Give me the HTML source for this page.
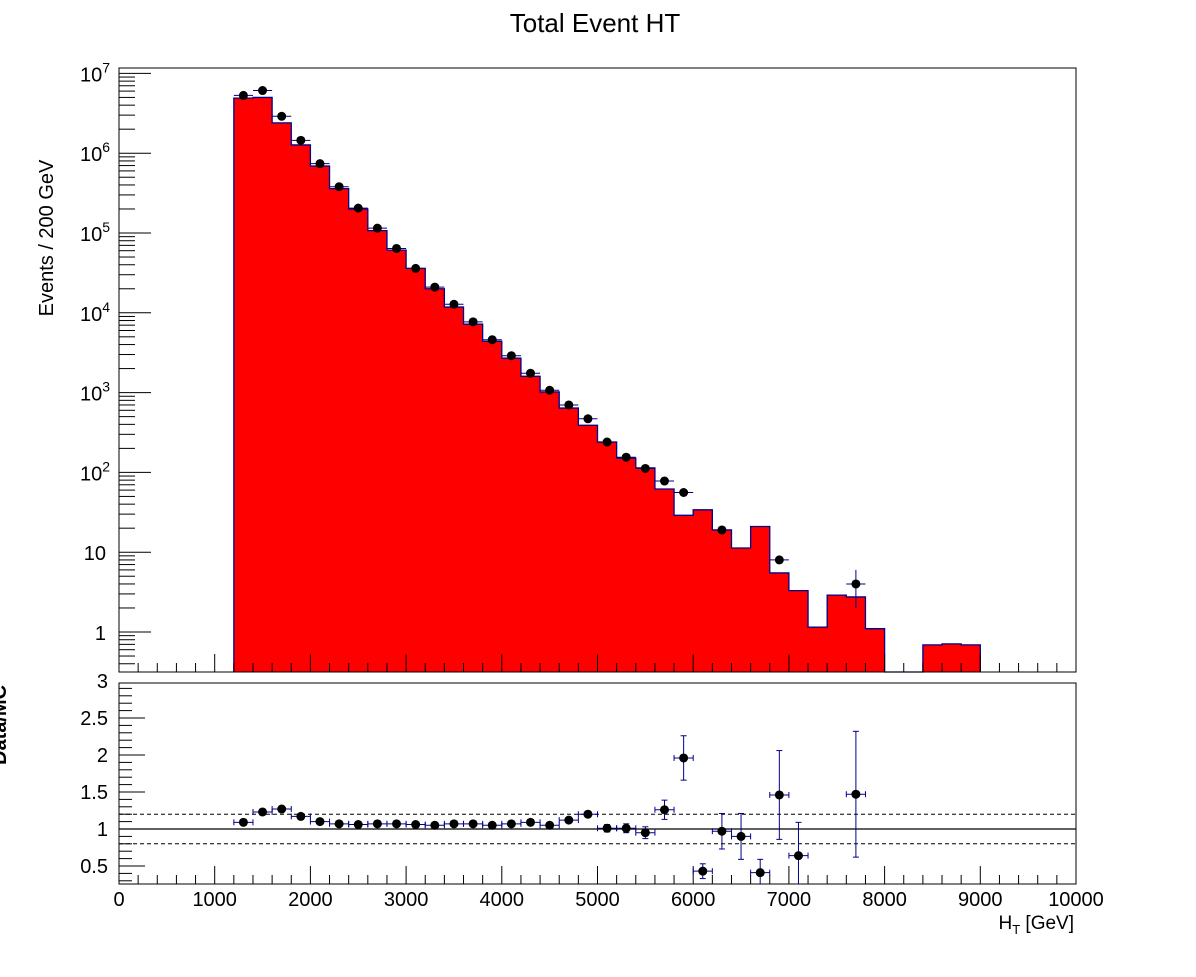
<!DOCTYPE html>
<html><head><meta charset="utf-8"><style>
body{margin:0;background:#fff;}
svg text{font-family:"Liberation Sans",sans-serif;fill:#000;}
</style></head><body>
<svg id="c" width="1196" height="972" xmlns="http://www.w3.org/2000/svg">
<rect width="1196" height="972" fill="#fff"/>
<text x="595" y="32" font-size="26" text-anchor="middle">Total Event HT</text>
<g id="main"></g>
<g id="ratio"></g>
</svg>
<script>
const binLows=[1200,1400,1600,1800,2000,2200,2400,2600,2800,3000,3200,3400,3600,3800,4000,4200,4400,4600,4800,5000,5200,5400,5600,5800,6000,6200,6400,6600,6800,7000,7200,7400,7600,7800,8000,8200,8400,8600,8800];
const mcValues=[4.9e6,5.0e6,2.4e6,1.27e6,6.9e5,3.6e5,2.0e5,1.07e5,6.1e4,3.6e4,2.0e4,1.18e4,7.2e3,4.4e3,2.7e3,1.6e3,1.02e3,640,390,240,151,114,62,29,34,19,11.3,21,5.5,3.3,1.15,2.9,2.75,1.1,0,0,0.69,0.71,0.69];
const dataX=[1300,1500,1700,1900,2100,2300,2500,2700,2900,3100,3300,3500,3700,3900,4100,4300,4500,4700,4900,5100,5300,5500,5700,5900,6300,6900,7700];
const dataY=[5.3e6,6.1e6,2.9e6,1.45e6,7.4e5,3.8e5,2.05e5,1.15e5,6.4e4,3.6e4,2.1e4,1.28e4,7.7e3,4.6e3,2.9e3,1.75e3,1.07e3,700,470,240,155,112,78,56,19,8,4];
const dataErr=[0,0,0,0,0,0,0,0,0,0,0,0,0,0,0,0,0,0,0,0,0,0,0,0,1.5,0,2];
const ratioX=[1300,1500,1700,1900,2100,2300,2500,2700,2900,3100,3300,3500,3700,3900,4100,4300,4500,4700,4900,5100,5300,5500,5700,5900,6100,6300,6500,6700,6900,7100,7700];
const ratioY=[1.09,1.23,1.27,1.17,1.1,1.07,1.06,1.07,1.07,1.06,1.05,1.07,1.07,1.05,1.07,1.09,1.05,1.12,1.2,1.01,1.01,0.95,1.26,1.96,0.43,0.97,0.9,0.41,1.46,0.64,1.47];
const ratioErr=[0.02,0.02,0.02,0.02,0.02,0.02,0.02,0.02,0.02,0.02,0.02,0.02,0.02,0.02,0.02,0.02,0.03,0.03,0.04,0.05,0.06,0.08,0.13,0.3,0.1,0.24,0.31,0.18,0.6,0.45,0.85];
const xTicks=[0,1000,2000,3000,4000,5000,6000,7000,8000,9000,10000];
const ratioTicks=[0.5,1,1.5,2,2.5,3];
const logTickExps=[0,1,2,3,4,5,6,7];

const NS="http://www.w3.org/2000/svg";
function el(p,t,a){const e=document.createElementNS(NS,t);for(const k in a)e.setAttribute(k,a[k]);p.appendChild(e);return e;}
const L=119,R=1076,MT=68,MB=672,RT=683,RB=884;
const X=v=>L+(v/10000)*(R-L);
const Y=v=>632-Math.log10(v)*79.8;
const YR=v=>829-(v-1)*74;
const main=document.getElementById('main'),ratio=document.getElementById('ratio');

// histogram as single polygon (no seams)
let pts=[];
for(let i=0;i<binLows.length;i++){
  const v=mcValues[i];const y=v>0?Math.max(MT,Math.min(MB,Y(v))):MB;
  pts.push(X(binLows[i])+','+y, X(binLows[i]+200)+','+y);
}
const lastX=X(binLows[binLows.length-1]+200);
const poly=X(binLows[0])+','+MB+' '+pts.join(' ')+' '+lastX+','+MB;
const fill=el(main,'polygon',{points:poly,fill:'#ff0000',stroke:'none'});


const outline=el(main,'polyline',{points:poly,fill:'none',stroke:'#00008b','stroke-width':1.3});



// main frame
el(main,'rect',{x:L,y:MT,width:R-L,height:MB-MT,fill:'none',stroke:'#000','stroke-width':1});
for(const e of logTickExps){
  const y=Y(Math.pow(10,e));
  el(main,'line',{x1:L,x2:L+32,y1:y,y2:y,stroke:'#000'});
  const t=el(main,'text',{x:e==0||e==1?106:110,y:y+8,'font-size':20,'text-anchor':'end'});
  
  
  if(e==0)t.textContent='1';else if(e==1)t.textContent='10';
  else{t.textContent='10';const s=el(t,'tspan',{dy:-9,'font-size':14});s.textContent=e;}
  for(let m=2;m<=9;m++){const ym=Y(m*Math.pow(10,e));if(ym>MT&&ym<MB)el(main,'line',{x1:L,x2:L+16,y1:ym,y2:ym,stroke:'#000'});}
  if(e==0)for(let m=2;m<=9;m++){const ym=Y(m*0.1);if(ym<MB)el(main,'line',{x1:L,x2:L+16,y1:ym,y2:ym,stroke:'#000'});}
}
for(let v=0;v<=10000;v+=200){const big=v%1000==0;el(main,'line',{x1:X(v),x2:X(v),y1:MB,y2:MB-(big?18:9),stroke:'#000'});}
const yt=el(main,'text',{transform:'translate(53,238) rotate(-90)','font-size':20,'text-anchor':'middle',x:0,y:0});
yt.textContent='Events / 200 GeV';



for(let i=0;i<dataX.length;i++){
  const cx=X(dataX[i]),cy=Y(dataY[i]);
  el(main,'line',{x1:X(dataX[i]-100),x2:X(dataX[i]+100),y1:cy,y2:cy,stroke:'#00008b'});
  if(dataErr[i]>0){el(main,'line',{x1:cx,x2:cx,y1:Y(dataY[i]+dataErr[i]),y2:Y(dataY[i]-dataErr[i]),stroke:'#00008b'});}
  const c=el(main,'circle',{cx:cx,cy:cy,r:4.5,fill:'#000'});
  
  
}

// ratio panel
el(ratio,'rect',{x:L,y:RT,width:R-L,height:RB-RT,fill:'#fff',stroke:'#000'});
el(ratio,'line',{x1:L,x2:R,y1:YR(1),y2:YR(1),stroke:'#000','stroke-width':1.3});
for(const v of [0.8,1.2])el(ratio,'line',{x1:L,x2:R,y1:YR(v),y2:YR(v),stroke:'#000','stroke-dasharray':'4,3'});
for(let k=3;k<=30;k++){const v=k/10;const y=YR(v);if(y<RT||y>RB)continue;const big=k%5==0;el(ratio,'line',{x1:L,x2:L+(big?26:13),y1:y,y2:y,stroke:'#000'});}
for(const v of ratioTicks){const t=el(ratio,'text',{x:108,y:YR(v)+7,'font-size':20,'text-anchor':'end'});t.textContent=String(v);
  
  }
for(let v=0;v<=10000;v+=200){const big=v%1000==0;el(ratio,'line',{x1:X(v),x2:X(v),y1:RB,y2:RB-(big?18:9),stroke:'#000'});}
for(const v of xTicks){const t=el(ratio,'text',{x:X(v),y:906,'font-size':20,'text-anchor':'middle'});t.textContent=String(v);
  
  }
const xt=el(ratio,'text',{x:1074,y:929,'font-size':19,'text-anchor':'end'});
xt.innerHTML='H<tspan dy="5" font-size="13">T</tspan><tspan dy="-5"> [GeV]</tspan>';


const rt=el(ratio,'text',{transform:'translate(6,725) rotate(-90)','font-size':20,'font-weight':'bold','text-anchor':'middle'});rt.textContent='Data/MC';


for(let i=0;i<ratioX.length;i++){
  const cx=X(ratioX[i]),cy=YR(ratioY[i]);
  el(ratio,'line',{x1:X(ratioX[i]-100),x2:X(ratioX[i]+100),y1:cy,y2:cy,stroke:'#00008b'});
  for(const xx of [ratioX[i]-100,ratioX[i]+100])el(ratio,'line',{x1:X(xx),x2:X(xx),y1:cy-3,y2:cy+3,stroke:'#00008b'});
  const y1=Math.max(RT,YR(ratioY[i]+ratioErr[i])),y2=Math.min(RB,YR(ratioY[i]-ratioErr[i]));
  el(ratio,'line',{x1:cx,x2:cx,y1:y1,y2:y2,stroke:'#00008b'});
  el(ratio,'line',{x1:cx-3,x2:cx+3,y1:y1,y2:y1,stroke:'#00008b'});
  if(y2<RB)el(ratio,'line',{x1:cx-3,x2:cx+3,y1:y2,y2:y2,stroke:'#00008b'});
  const c=el(ratio,'circle',{cx:cx,cy:cy,r:4.5,fill:'#000'});
  
  
}
</script>
</body></html>
